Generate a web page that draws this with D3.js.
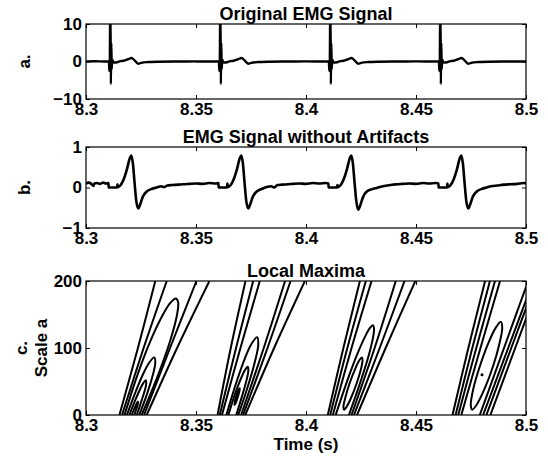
<!DOCTYPE html>
<html>
<head>
<meta charset="utf-8">
<script src="https://cdn.jsdelivr.net/npm/d3@7"></script>
<style>
  body { margin: 0; background: #fff; }
  svg { display: block; }
  text { font-family: "Liberation Sans", Arial, sans-serif; font-weight: bold; fill: #000; }
</style>
</head>
<body>
<svg id="chart" width="548" height="459"></svg>
<script>
/* Data */
const timeTicks = [8.3, 8.35, 8.4, 8.45, 8.5]
const rawTicks = [-10, 0, 10]
const cleanTicks = [-1, 0, 1]
const scaleTicks = [0, 100, 200]

// a. original EMG signal [time, amplitude]
const rawSignal = [
  [8.3000,0.0],[8.3040,0.05],[8.3080,0.0],[8.3104,0.0],[8.3106,-2.5],[8.3108,-1.0],[8.3110,12],[8.3112,6],[8.3113,-6],[8.3115,5],[8.3117,-2],[8.3119,0.5],[8.3126,-0.3],[8.3141,-0.2],[8.3156,0.1],[8.3171,0.2],[8.3191,0.6],[8.3207,0.95],[8.3221,0.3],[8.3237,-0.6],[8.3251,-0.35],[8.3281,-0.15],[8.3331,-0.05],[8.3411,0.0],[8.3500,0.02],[8.3590,0.0],
  [8.3604,0.0],[8.3606,-2.5],[8.3608,-1.0],[8.3610,12],[8.3612,6],[8.3613,-6],[8.3615,5],[8.3617,-2],[8.3619,0.5],[8.3626,-0.3],[8.3641,-0.2],[8.3656,0.1],[8.3671,0.2],[8.3691,0.6],[8.3707,0.95],[8.3721,0.3],[8.3737,-0.6],[8.3751,-0.35],[8.3781,-0.15],[8.3831,-0.05],[8.3911,0.0],[8.4000,0.02],[8.4090,0.0],
  [8.4104,0.0],[8.4106,-2.5],[8.4108,-1.0],[8.4110,12],[8.4112,6],[8.4113,-6],[8.4115,5],[8.4117,-2],[8.4119,0.5],[8.4126,-0.3],[8.4141,-0.2],[8.4156,0.1],[8.4171,0.2],[8.4191,0.6],[8.4207,0.95],[8.4221,0.3],[8.4237,-0.6],[8.4251,-0.35],[8.4281,-0.15],[8.4331,-0.05],[8.4411,0.0],[8.4500,0.02],[8.4590,0.0],
  [8.4604,0.0],[8.4606,-2.5],[8.4608,-1.0],[8.4610,12],[8.4612,6],[8.4613,-6],[8.4615,5],[8.4617,-2],[8.4619,0.5],[8.4626,-0.3],[8.4641,-0.2],[8.4656,0.1],[8.4671,0.2],[8.4691,0.6],[8.4707,0.95],[8.4721,0.3],[8.4737,-0.6],[8.4751,-0.35],[8.4781,-0.15],[8.4831,-0.05],[8.4911,0.0],[8.5000,0.02]
]

// b. EMG signal without artifacts [time, amplitude]
const cleanSignal = [
  [8.3000,0.10],[8.3012,0.12],[8.3024,0.09],[8.3034,0.04],[8.3038,0.10],[8.3050,0.11],[8.3064,0.09],[8.3078,0.12],[8.3090,0.10],[8.3102,0.11],
  [8.3103,0.0],[8.3141,0.0],[8.3143,0.08],[8.3145,0.01],[8.3156,0.05],[8.3171,0.2],[8.3186,0.45],[8.3199,0.72],[8.3206,0.79],[8.3213,0.6],[8.3221,0.1],[8.3229,-0.35],[8.3238,-0.52],[8.3246,-0.42],[8.3259,-0.22],[8.3276,-0.1],[8.3301,-0.03],[8.3321,0.0],[8.3341,0.03],[8.3355,0.01],[8.3370,0.05],[8.3391,0.06],[8.3420,0.07],[8.3441,0.08],[8.3470,0.09],[8.3500,0.10],[8.3530,0.09],[8.3560,0.11],[8.3590,0.10],[8.3602,0.11],
  [8.3603,0.0],[8.3641,0.0],[8.3643,0.1],[8.3645,0.01],[8.3656,0.05],[8.3671,0.2],[8.3686,0.45],[8.3699,0.72],[8.3706,0.79],[8.3713,0.6],[8.3721,0.1],[8.3729,-0.35],[8.3738,-0.52],[8.3746,-0.42],[8.3759,-0.22],[8.3776,-0.1],[8.3801,-0.03],[8.3821,0.01],[8.3841,0.03],[8.3855,0.0],[8.3870,0.06],[8.3891,0.07],[8.3920,0.08],[8.3941,0.09],[8.3970,0.10],[8.4000,0.09],[8.4030,0.11],[8.4060,0.10],[8.4090,0.11],[8.4102,0.10],
  [8.4103,0.0],[8.4141,0.0],[8.4143,0.06],[8.4145,0.01],[8.4156,0.05],[8.4171,0.2],[8.4186,0.45],[8.4199,0.72],[8.4206,0.79],[8.4213,0.6],[8.4221,0.1],[8.4229,-0.35],[8.4238,-0.55],[8.4246,-0.45],[8.4259,-0.24],[8.4276,-0.1],[8.4301,-0.04],[8.4321,-0.01],[8.4341,0.02],[8.4370,0.05],[8.4391,0.07],[8.4420,0.08],[8.4441,0.09],[8.4470,0.10],[8.4500,0.09],[8.4530,0.11],[8.4560,0.10],[8.4590,0.11],[8.4602,0.10],
  [8.4603,0.0],[8.4641,0.0],[8.4643,0.1],[8.4645,0.01],[8.4656,0.05],[8.4671,0.2],[8.4686,0.45],[8.4699,0.72],[8.4706,0.79],[8.4713,0.6],[8.4721,0.1],[8.4729,-0.35],[8.4738,-0.52],[8.4746,-0.42],[8.4759,-0.22],[8.4776,-0.1],[8.4801,-0.03],[8.4821,0.0],[8.4841,0.03],[8.4870,0.05],[8.4900,0.07],[8.4930,0.08],[8.4960,0.09],[8.4990,0.11],[8.5000,0.10]
]

// c. local maxima contours [time, scale a], one polyline each
const maximaOpen = [
  // event 1
  [[8.3152,0],[8.3236,100],[8.3315,200]],
  [[8.3164,0],[8.3262,100],[8.3367,200]],
  [[8.3264,0],[8.3382,100],[8.3502,200]],
  [[8.3276,0],[8.3414,100],[8.3561,200]],
  [[8.3175,0],[8.3234,60],[8.3292,110],[8.3350,150],[8.3385,168],[8.3409,174],[8.3419,168],[8.3414,150],[8.3382,110],[8.3328,60],[8.3253,0]],
  [[8.3186,0],[8.3220,30],[8.3258,60],[8.3287,78],[8.3310,86],[8.3315,78],[8.3304,60],[8.3276,30],[8.3242,0]],
  [[8.3197,0],[8.3221,20],[8.3248,40],[8.3261,48],[8.3272,52],[8.3274,48],[8.3270,40],[8.3251,20],[8.3231,0]],
  [[8.3208,0],[8.3220,10],[8.3230,17],[8.3236,20],[8.3236,17],[8.3230,10],[8.3220,0]],
  // event 2
  [[8.3598,0],[8.3658,100],[8.3725,200]],
  [[8.3608,0],[8.3682,100],[8.3760,200]],
  [[8.3618,0],[8.3702,100],[8.3790,200]],
  [[8.3705,0],[8.3808,100],[8.3905,200]],
  [[8.3714,0],[8.3825,100],[8.3930,200]],
  [[8.3724,0],[8.3855,100],[8.3995,200]],
  [[8.3638,0],[8.3675,40],[8.3717,80],[8.3750,105],[8.3778,116],[8.3783,105],[8.3768,80],[8.3733,40],[8.3692,0]],
  [[8.3647,0],[8.3676,30],[8.3705,55],[8.3722,67],[8.3735,72],[8.3738,67],[8.3732,55],[8.3711,30],[8.3683,0]],
  // event 3
  [[8.4099,0],[8.4170,100],[8.4245,200]],
  [[8.4110,0],[8.4188,100],[8.4272,200]],
  [[8.4122,0],[8.4207,100],[8.4298,200]],
  [[8.4207,0],[8.4312,100],[8.4408,200]],
  [[8.4218,0],[8.4335,100],[8.4448,200]],
  [[8.4232,0],[8.4362,100],[8.4497,200]],
  [[8.4135,0],[8.4181,45],[8.4232,90],[8.4273,120],[8.4291,130],[8.4304,134],[8.4309,130],[8.4307,120],[8.4286,90],[8.4243,45],[8.4195,0]],
  // event 4
  [[8.4666,0],[8.4738,100],[8.4814,200]],
  [[8.4680,0],[8.4756,100],[8.4836,200]],
  [[8.4692,0],[8.4774,100],[8.4859,200]],
  [[8.4706,0],[8.4793,100],[8.4882,200]],
  [[8.4790,0],[8.4900,100],[8.5010,200]],
  [[8.4805,0],[8.4919,100],[8.5033,200]],
  [[8.4820,0],[8.4933,100],[8.5046,200]],
  [[8.4838,0],[8.4951,100],[8.5064,200]]
]
const maximaClosed = [
  [[8.3675,15],[8.3682,19],[8.3690,27],[8.3697,35],[8.3699,40],[8.3692,37],[8.3684,29],[8.3677,21]],
  [[8.4173,8],[8.4184,12],[8.4204,25],[8.4230,47],[8.4251,70],[8.4257,82],[8.4254,86],[8.4243,82],[8.4225,70],[8.4198,47],[8.4178,25],[8.4170,12]],
  [[8.4755,8],[8.4775,15],[8.4813,40],[8.4851,73.5],[8.4878,105],[8.4892,130],[8.4886,139],[8.4862,130],[8.4826,105],[8.4791,73.5],[8.4761,40],[8.4749,15]]
]
const maximaDots = [[8.4800, 60]]

/* Layout */
const LEFT = 86
const RIGHT = 526
const TICK = 4
const FONT = 17
const TITLE_FONT = 18
const PANELS = [
  {id: "a", top: 24, bottom: 99, domain: [-10, 10], ticks: rawTicks, title: "Original EMG Signal"},
  {id: "b", top: 147, bottom: 228, domain: [-1, 1], ticks: cleanTicks, title: "EMG Signal without Artifacts"},
  {id: "c", top: 281, bottom: 415, domain: [0, 200], ticks: scaleTicks, title: "Local Maxima"}
]

const svg = d3.select("#chart")
const x = d3.scaleLinear().domain([8.3, 8.5]).range([LEFT, RIGHT])

const makePanel = (p) => {
  const y = d3.scaleLinear().domain(p.domain).range([p.bottom, p.top])
  const g = svg.append("g").attr("class", "panel-" + p.id)
  g.append("clipPath").attr("id", "clip-" + p.id)
    .append("rect").attr("x", LEFT).attr("y", p.top)
    .attr("width", RIGHT - LEFT).attr("height", p.bottom - p.top)

  const bottomAxis = d3.axisBottom(x).tickValues(timeTicks).tickFormat(d => d).tickSizeInner(-TICK).tickSizeOuter(0).tickPadding(4)
  const topAxis = d3.axisTop(x).tickValues(timeTicks).tickFormat("").tickSizeInner(-TICK).tickSizeOuter(0)
  const leftAxis = d3.axisLeft(y).tickValues(p.ticks).tickFormat(d3.format("d")).tickSizeInner(-TICK).tickSizeOuter(0).tickPadding(4)
  const rightAxis = d3.axisRight(y).tickValues(p.ticks).tickFormat("").tickSizeInner(-TICK).tickSizeOuter(0)

  const axes = [
    [bottomAxis, "translate(0," + p.bottom + ")"],
    [topAxis, "translate(0," + p.top + ")"],
    [leftAxis, "translate(" + LEFT + ",0)"],
    [rightAxis, "translate(" + RIGHT + ",0)"]
  ]
  axes.forEach(([ax, tr]) => {
    const a = g.append("g").attr("transform", tr).call(ax)
    a.select(".domain").remove()
    a.selectAll("line").attr("stroke", "#000").attr("stroke-width", 1)
    a.selectAll("text").attr("font-size", FONT).attr("font-family", null)
  })

  g.append("text").attr("x", (LEFT + RIGHT) / 2).attr("y", p.top - 4)
    .attr("text-anchor", "middle").attr("font-size", TITLE_FONT).text(p.title)

  const plot = g.append("g").attr("clip-path", "url(#clip-" + p.id + ")")
  return {g, y, plot}
}

/* a. */
const pa = makePanel(PANELS[0])
pa.plot.append("path").datum(rawSignal)
  .attr("d", d3.line().x(d => x(d[0])).y(d => pa.y(d[1])).curve(d3.curveMonotoneX))
  .attr("fill", "none").attr("stroke", "#000").attr("stroke-width", 2.4).attr("stroke-linejoin", "round")

/* b. */
const pb = makePanel(PANELS[1])
pb.plot.append("path").datum(cleanSignal)
  .attr("d", d3.line().x(d => x(d[0])).y(d => pb.y(d[1])).curve(d3.curveMonotoneX))
  .attr("fill", "none").attr("stroke", "#000").attr("stroke-width", 2.6).attr("stroke-linejoin", "round")

/* c. */
const pc = makePanel(PANELS[2])
const contour = d3.line().x(d => x(d[0])).y(d => pc.y(d[1])).curve(d3.curveCatmullRom.alpha(0.5))
const contourClosed = d3.line().x(d => x(d[0])).y(d => pc.y(d[1])).curve(d3.curveCatmullRomClosed.alpha(0.5))
pc.plot.selectAll("path.open").data(maximaOpen).join("path").attr("class", "open")
  .attr("d", contour).attr("fill", "none").attr("stroke", "#000").attr("stroke-width", 2)
pc.plot.selectAll("path.closed").data(maximaClosed).join("path").attr("class", "closed")
  .attr("d", contourClosed).attr("fill", "none").attr("stroke", "#000").attr("stroke-width", 2)
pc.plot.selectAll("circle").data(maximaDots).join("circle")
  .attr("cx", d => x(d[0])).attr("cy", d => pc.y(d[1])).attr("r", 1.5).attr("fill", "#000")

/* Boxes */
PANELS.forEach(p => {
  svg.append("rect").attr("x", LEFT).attr("y", p.top).attr("width", RIGHT - LEFT).attr("height", p.bottom - p.top)
    .attr("fill", "none").attr("stroke", "#000").attr("stroke-width", 1.2)
})

/* Axis labels */
const yLabel = (cx, cy, txt) => svg.append("text")
  .attr("transform", "translate(" + cx + "," + cy + ") rotate(-90)")
  .attr("text-anchor", "middle").attr("font-size", FONT).text(txt)
yLabel(30, (PANELS[0].top + PANELS[0].bottom) / 2, "a.")
yLabel(30, (PANELS[1].top + PANELS[1].bottom) / 2, "b.")
yLabel(27, (PANELS[2].top + PANELS[2].bottom) / 2, "c.")
yLabel(47, (PANELS[2].top + PANELS[2].bottom) / 2, "Scale a")
svg.append("text").attr("x", (LEFT + RIGHT) / 2).attr("y", 450)
  .attr("text-anchor", "middle").attr("font-size", FONT).text("Time (s)")
</script>
</body>
</html>
